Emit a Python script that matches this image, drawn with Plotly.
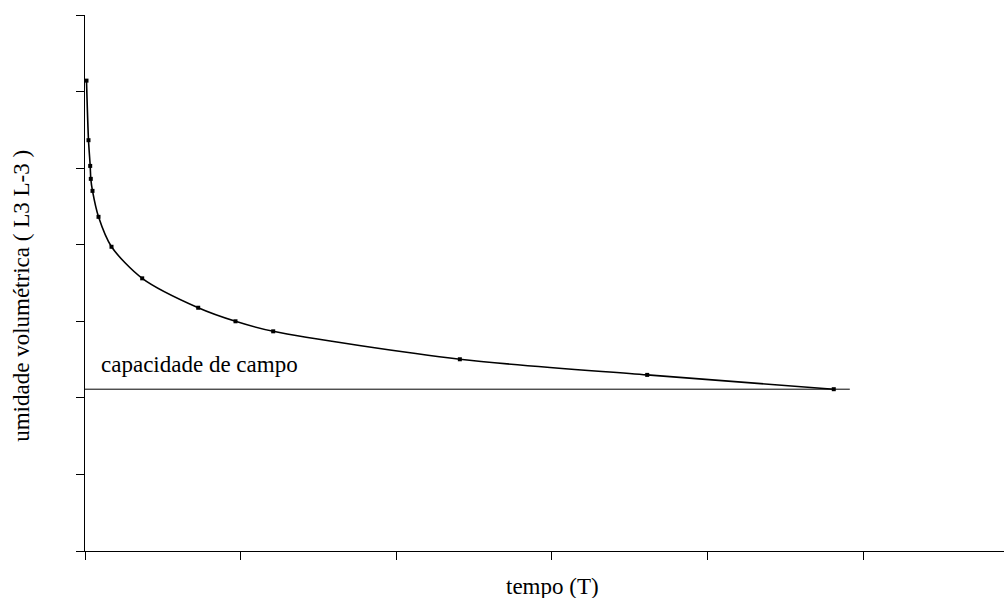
import plotly.graph_objects as go

# data (axis units = tick intervals)
tempo = [0.0096, 0.0225, 0.0334, 0.0373, 0.0482, 0.0868, 0.1703, 0.3676,
         0.7275, 0.9672, 1.2095, 2.409, 3.613, 4.812]
umidade = [6.143, 5.365, 5.029, 4.860, 4.703, 4.364, 3.973, 3.561,
           3.177, 3.000, 2.869, 2.504, 2.300, 2.113]
cc_x = [0.0, 4.915]
cc_y = [2.113, 2.113]
cc_label = "capacidade de campo"
x_title = "tempo (T)"
y_title = "umidade volumétrica ( L3 L-3 )"

FONT = "Liberation Serif, Times New Roman, serif"

fig = go.Figure()
fig.add_trace(go.Scatter(x=cc_x, y=cc_y, mode="lines",
                         line=dict(color="black", width=1), hoverinfo="skip",
                         showlegend=False))
fig.add_trace(go.Scatter(x=tempo, y=umidade, mode="lines+markers",
                         line=dict(color="black", width=1.6, shape="spline", smoothing=0.8),
                         marker=dict(symbol="square", size=4, color="black"),
                         showlegend=False))

fig.add_annotation(x=0.087, y=2.43, xref="x", yref="y", text=cc_label,
                   showarrow=False, xanchor="left", yanchor="middle",
                   font=dict(family=FONT, size=23, color="black"))
fig.add_annotation(x=0.509, y=-0.0655, xref="paper", yref="paper", text=x_title,
                   showarrow=False, xanchor="center", yanchor="middle",
                   font=dict(family=FONT, size=23, color="black"))
fig.add_annotation(x=-0.0686, y=0.476, xref="paper", yref="paper", text=y_title,
                   showarrow=False, xanchor="center", yanchor="middle", textangle=-90,
                   font=dict(family=FONT, size=23, color="black"))

fig.update_layout(
    width=1004, height=598,
    margin=dict(l=85, r=0, t=15, b=47),
    paper_bgcolor="white", plot_bgcolor="white",
    font=dict(family=FONT, size=23, color="black"),
    xaxis=dict(range=[0, 5.906], dtick=1, tick0=0, showgrid=False, zeroline=False,
               showline=True, linecolor="black", linewidth=1.2,
               ticks="outside", ticklen=8, tickcolor="black", tickwidth=1,
               showticklabels=False),
    yaxis=dict(range=[0, 7], dtick=1, tick0=0, showgrid=False, zeroline=False,
               showline=True, linecolor="black", linewidth=1.2,
               ticks="outside", ticklen=8, tickcolor="black", tickwidth=1,
               showticklabels=False),
)

fig.write_html("out.html", config={"displayModeBar": False},
               post_script="document.body.style.margin='0';document.body.style.overflow='hidden';")
